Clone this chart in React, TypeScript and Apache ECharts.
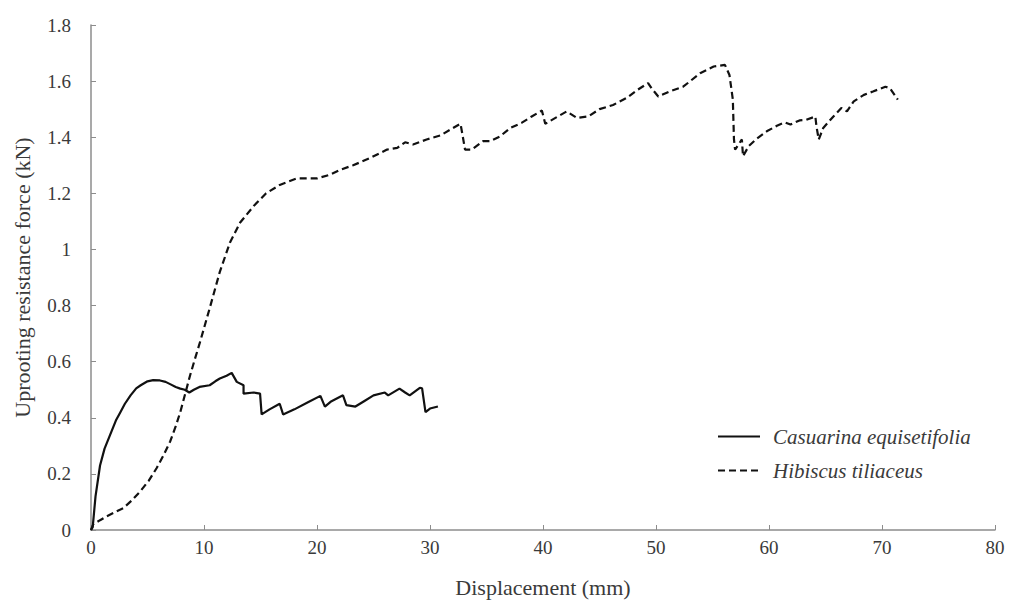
import React, { useEffect, useRef } from "react";
import * as echarts from "echarts";

const casuarinaName = "Casuarina equisetifolia";
const hibiscusName = "Hibiscus tiliaceus";

const casuarina: [number, number][] = [
  [0, 0], [0.15, 0.01], [0.4, 0.12], [0.8, 0.23], [1.2, 0.29], [1.7, 0.34], [2.2, 0.39], [2.6, 0.42],
  [3.0, 0.45], [3.5, 0.48], [4.0, 0.505], [4.4, 0.516], [5.0, 0.53], [5.5, 0.534], [6.1, 0.533],
  [6.6, 0.528], [7.0, 0.52], [7.5, 0.51], [7.9, 0.504], [8.3, 0.5], [8.7, 0.49], [9.1, 0.5],
  [9.6, 0.51], [10.5, 0.516], [11.0, 0.53], [11.4, 0.54], [12.0, 0.55], [12.45, 0.56], [12.9, 0.528],
  [13.5, 0.516], [13.5, 0.486], [14.4, 0.49], [14.96, 0.486], [15.1, 0.412], [15.8, 0.43],
  [16.7, 0.45], [17.0, 0.412], [18.0, 0.43], [19.2, 0.455], [20.3, 0.478], [20.7, 0.44],
  [21.2, 0.457], [22.3, 0.48], [22.6, 0.445], [23.4, 0.44], [24.2, 0.46], [25.0, 0.48],
  [26.0, 0.49], [26.3, 0.48], [27.3, 0.504], [27.8, 0.49], [28.2, 0.48], [29.1, 0.507],
  [29.3, 0.505], [29.6, 0.42], [30.0, 0.433], [30.7, 0.44],
];

const hibiscus: [number, number][] = [
  [0, 0], [0.2, 0.02], [0.8, 0.035], [1.4, 0.049], [2.2, 0.065], [2.86, 0.078], [3.6, 0.105],
  [4.34, 0.137], [5.1, 0.175], [5.8, 0.22], [6.4, 0.265], [7.0, 0.315], [7.5, 0.37], [7.9, 0.42],
  [8.3, 0.48], [8.76, 0.55], [9.2, 0.61], [9.65, 0.67], [10.5, 0.79], [11.4, 0.92], [12.3, 1.025],
  [13.2, 1.096], [14.4, 1.155], [15.5, 1.2], [16.7, 1.23], [18.2, 1.253], [20.0, 1.253],
  [21.2, 1.267], [22.0, 1.283], [23.2, 1.3], [24.7, 1.326], [26.2, 1.356], [27.1, 1.362],
  [27.8, 1.382], [28.5, 1.374], [29.7, 1.392], [30.9, 1.406], [31.8, 1.427], [32.7, 1.448],
  [32.9, 1.403], [33.1, 1.356], [33.7, 1.356], [34.7, 1.386], [35.3, 1.386], [36.2, 1.403],
  [37.1, 1.433], [38.1, 1.451], [39.0, 1.474], [39.9, 1.495], [40.2, 1.448], [41.1, 1.469],
  [42.1, 1.492], [43.0, 1.469], [44.0, 1.474], [45.0, 1.5], [46.2, 1.515], [47.4, 1.54],
  [48.3, 1.567], [49.3, 1.593], [49.6, 1.575], [50.2, 1.545], [51.2, 1.563], [52.4, 1.58],
  [53.0, 1.599], [53.9, 1.628], [55.1, 1.652], [56.1, 1.658], [56.5, 1.622], [56.8, 1.534],
  [56.9, 1.392], [57.0, 1.356], [57.6, 1.392], [57.7, 1.332], [58.2, 1.368], [58.9, 1.394],
  [59.8, 1.421], [60.7, 1.441], [61.4, 1.453], [61.9, 1.445], [62.7, 1.46], [63.3, 1.462],
  [64.1, 1.474], [64.2, 1.439], [64.4, 1.392], [64.8, 1.433], [65.7, 1.474], [66.4, 1.504],
  [66.9, 1.492], [67.5, 1.528], [68.4, 1.551], [69.2, 1.563], [70.3, 1.58], [70.7, 1.575],
  [71.4, 1.534],
];

const xTitle = "Displacement (mm)";
const yTitle = "Uprooting resistance force (kN)";

const serif = "'Liberation Serif', 'Times New Roman', serif";
const textColor = "#3a3a3a";
const axisColor = "#8c8c8c";

export default function App() {
  const ref = useRef<HTMLDivElement>(null);
  useEffect(() => {
    document.body.style.margin = "0";
    const chart = echarts.init(ref.current!, null, { renderer: "svg" });
    chart.setOption({
      animation: false,
      backgroundColor: "#ffffff",
      grid: { left: 91, right: 16, top: 25, bottom: 71, containLabel: false },
      legend: {
        orient: "vertical",
        left: 712,
        top: 421,
        itemWidth: 42,
        itemHeight: 14,
        itemGap: 13,
        itemStyle: { opacity: 0, borderWidth: 0 },
        textStyle: { fontFamily: serif, fontStyle: "italic", fontSize: 21, color: textColor, padding: [0, 0, 0, 8] },
        data: [casuarinaName, hibiscusName],
      },
      xAxis: {
        type: "value",
        min: 0,
        max: 80,
        interval: 10,
        name: xTitle,
        nameLocation: "middle",
        nameGap: 46,
        nameTextStyle: { fontFamily: serif, fontSize: 22, color: textColor },
        axisLine: { show: true, lineStyle: { color: axisColor, width: 1.5 } },
        axisTick: { show: true, inside: true, length: 5, lineStyle: { color: axisColor } },
        axisLabel: { fontFamily: serif, fontSize: 19, color: textColor, margin: 8 },
        splitLine: { show: false },
      },
      yAxis: {
        type: "value",
        min: 0,
        max: 1.8,
        interval: 0.2,
        name: yTitle,
        nameLocation: "middle",
        nameGap: 58,
        nameTextStyle: { fontFamily: serif, fontSize: 22, color: textColor },
        axisLine: { show: true, lineStyle: { color: axisColor, width: 1.5 } },
        axisTick: { show: true, inside: true, length: 5, lineStyle: { color: axisColor } },
        axisLabel: { fontFamily: serif, fontSize: 19, color: textColor, margin: 20 },
        splitLine: { show: false },
      },
      series: [
        {
          name: casuarinaName,
          type: "line",
          data: casuarina,
          symbol: "none",
          lineStyle: { color: "#111111", width: 2.2 },
          itemStyle: { color: "#111111" },
        },
        {
          name: hibiscusName,
          type: "line",
          data: hibiscus,
          symbol: "none",
          lineStyle: { color: "#111111", width: 2.2, type: [7, 4] },
          itemStyle: { color: "#111111" },
        },
      ],
    });
    return () => chart.dispose();
  }, []);
  return <div ref={ref} style={{ width: 1011, height: 603 }} />;
}
